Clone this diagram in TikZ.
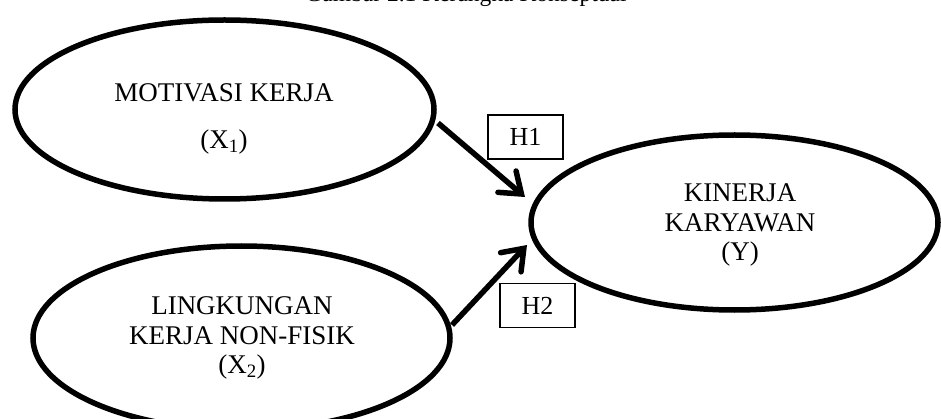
\documentclass[tikz,border=0pt]{standalone}
\usepackage{fontspec}
\setmainfont{Liberation Serif}
\usetikzlibrary{shapes.geometric,arrows.meta}
\tikzset{
  varell/.style={draw=black, line width=5.5pt, ellipse, inner sep=0pt},
  vartext/.style={font=\fontsize{27}{29.5}\selectfont, align=center, inner sep=0pt},
  hbox/.style={draw=black, line width=1.4pt, minimum width=75pt, minimum height=44pt, inner sep=0pt, font=\fontsize{26}{29}\selectfont},
  hyparrow/.style={line width=5.5pt, -{Straight Barb[length=19pt,width=28pt,line cap=round]}}
}
\begin{document}
\begin{tikzpicture}[x=1pt,y=-1pt]
\useasboundingbox (0,0) rectangle (941,419);
\clip (0,0) rectangle (941,419);
% title (cut by the top edge)
\node[font=\fontsize{23.5}{27}\selectfont, anchor=base, inner sep=0pt] (title) at (466,2) {Gambar 2.1 Kerangka Konseptual};
% ellipses
\node[varell, minimum width=419pt, minimum height=179pt] (e1) at (224.5,109.5) {};
\node[varell, minimum width=417pt, minimum height=184pt] (e2) at (241.5,338) {};
\node[varell, minimum width=407pt, minimum height=175pt] (e3) at (734.5,222.5) {};
% texts
\node[vartext] (t1) at (224,119) {MOTIVASI KERJA\\[18pt](X\textsubscript{1})};
\node[vartext] (t2) at (242,338) {LINGKUNGAN\\KERJA NON-FISIK\\(X\textsubscript{2})};
\node[vartext] (t3) at (740,225) {KINERJA\\KARYAWAN\\(Y)};
% arrow end points
\coordinate (a1s) at (438,123);
\coordinate (a1e) at (525,197);
\coordinate (a2s) at (452,325);
\coordinate (a2e) at (527,245);
\draw[hyparrow] (a1s) -- (a1e);
\draw[hyparrow] (a2s) -- (a2e);
% hypothesis boxes
\node[hbox] (h1) at (525.5,137) {H1};
\node[hbox] (h2) at (537.5,305.5) {H2};
\end{tikzpicture}
\end{document}
